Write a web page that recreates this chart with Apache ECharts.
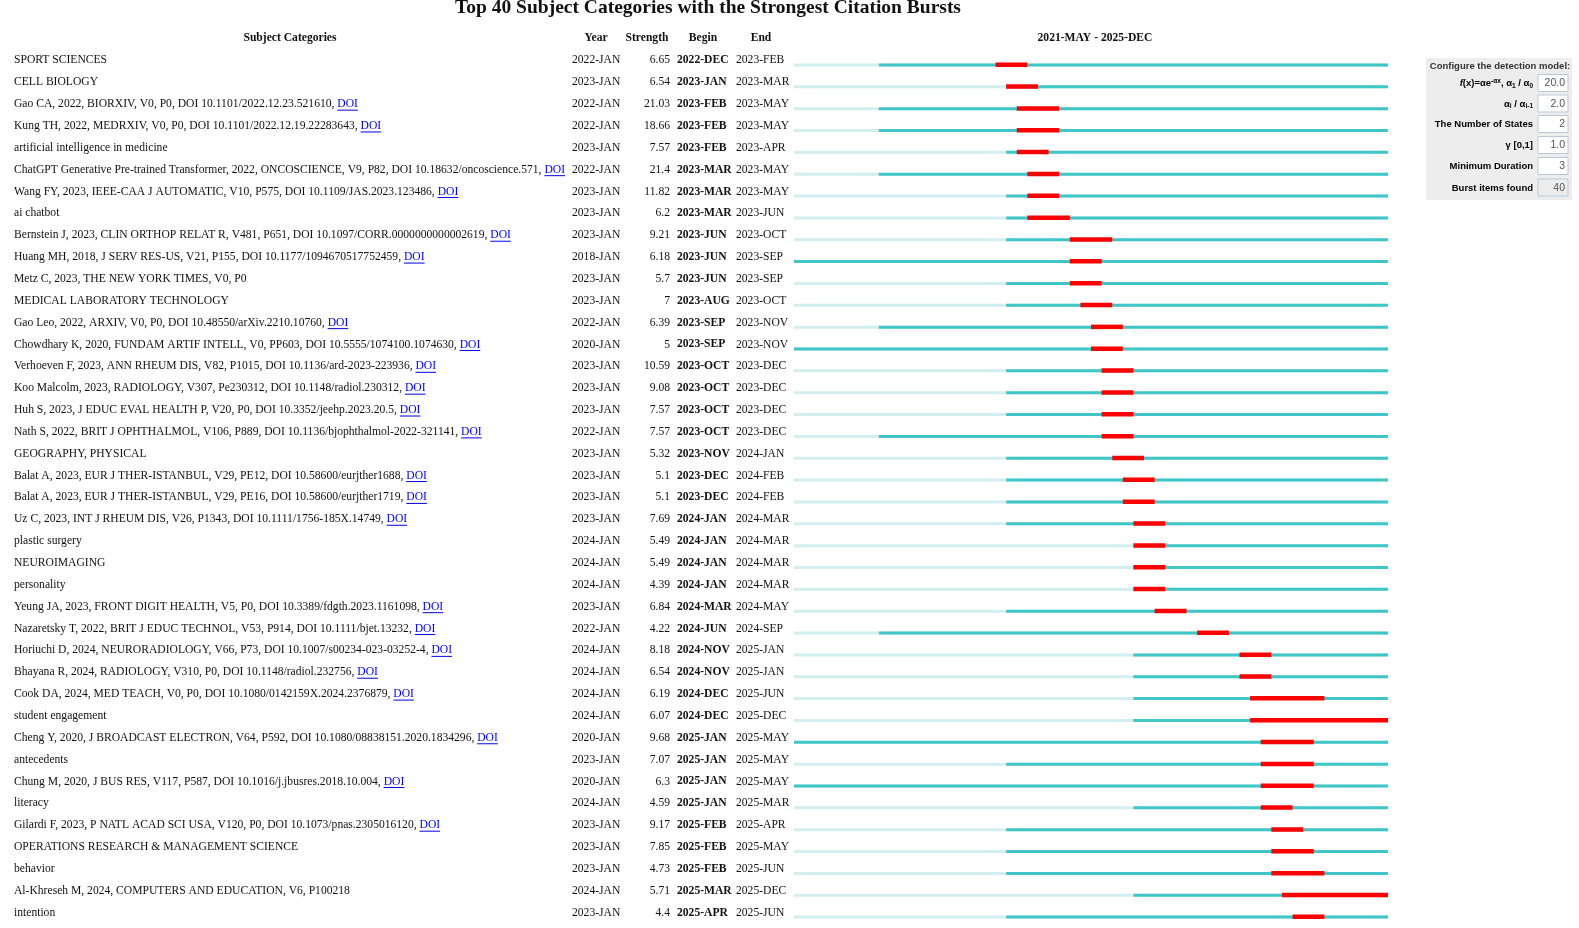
<!DOCTYPE html>
<html><head><meta charset="utf-8">
<script src="https://cdn.jsdelivr.net/npm/echarts@6/dist/echarts.min.js"></script>
<style>html,body{margin:0;padding:0;background:#fff}#c{width:1579px;height:928px}</style>
</head><body><div id="c"></div>
<script>
// ---------- data ----------
const titleText = 'Top 40 Subject Categories with the Strongest Citation Bursts';
const rangeStart = '2021-MAY';
const rangeEnd = '2025-DEC';
const names = [
  'SPORT SCIENCES',
  'CELL BIOLOGY',
  'Gao CA, 2022, BIORXIV, V0, P0, DOI 10.1101/2022.12.23.521610',
  'Kung TH, 2022, MEDRXIV, V0, P0, DOI 10.1101/2022.12.19.22283643',
  'artificial intelligence in medicine',
  'ChatGPT Generative Pre-trained Transformer, 2022, ONCOSCIENCE, V9, P82, DOI 10.18632/oncoscience.571',
  'Wang FY, 2023, IEEE-CAA J AUTOMATIC, V10, P575, DOI 10.1109/JAS.2023.123486',
  'ai chatbot',
  'Bernstein J, 2023, CLIN ORTHOP RELAT R, V481, P651, DOI 10.1097/CORR.0000000000002619',
  'Huang MH, 2018, J SERV RES-US, V21, P155, DOI 10.1177/1094670517752459',
  'Metz C, 2023, THE NEW YORK TIMES, V0, P0',
  'MEDICAL LABORATORY TECHNOLOGY',
  'Gao Leo, 2022, ARXIV, V0, P0, DOI 10.48550/arXiv.2210.10760',
  'Chowdhary K, 2020, FUNDAM ARTIF INTELL, V0, PP603, DOI 10.5555/1074100.1074630',
  'Verhoeven F, 2023, ANN RHEUM DIS, V82, P1015, DOI 10.1136/ard-2023-223936',
  'Koo Malcolm, 2023, RADIOLOGY, V307, Pe230312, DOI 10.1148/radiol.230312',
  'Huh S, 2023, J EDUC EVAL HEALTH P, V20, P0, DOI 10.3352/jeehp.2023.20.5',
  'Nath S, 2022, BRIT J OPHTHALMOL, V106, P889, DOI 10.1136/bjophthalmol-2022-321141',
  'GEOGRAPHY, PHYSICAL',
  'Balat A, 2023, EUR J THER-ISTANBUL, V29, PE12, DOI 10.58600/eurjther1688',
  'Balat A, 2023, EUR J THER-ISTANBUL, V29, PE16, DOI 10.58600/eurjther1719',
  'Uz C, 2023, INT J RHEUM DIS, V26, P1343, DOI 10.1111/1756-185X.14749',
  'plastic surgery',
  'NEUROIMAGING',
  'personality',
  'Yeung JA, 2023, FRONT DIGIT HEALTH, V5, P0, DOI 10.3389/fdgth.2023.1161098',
  'Nazaretsky T, 2022, BRIT J EDUC TECHNOL, V53, P914, DOI 10.1111/bjet.13232',
  'Horiuchi D, 2024, NEURORADIOLOGY, V66, P73, DOI 10.1007/s00234-023-03252-4',
  'Bhayana R, 2024, RADIOLOGY, V310, P0, DOI 10.1148/radiol.232756',
  'Cook DA, 2024, MED TEACH, V0, P0, DOI 10.1080/0142159X.2024.2376879',
  'student engagement',
  'Cheng Y, 2020, J BROADCAST ELECTRON, V64, P592, DOI 10.1080/08838151.2020.1834296',
  'antecedents',
  'Chung M, 2020, J BUS RES, V117, P587, DOI 10.1016/j.jbusres.2018.10.004',
  'literacy',
  'Gilardi F, 2023, P NATL ACAD SCI USA, V120, P0, DOI 10.1073/pnas.2305016120',
  'OPERATIONS RESEARCH & MANAGEMENT SCIENCE',
  'behavior',
  'Al-Khreseh M, 2024, COMPUTERS AND EDUCATION, V6, P100218',
  'intention'
];
const hasDoi = [0,0,1,1,0,1,1,0,1,1,0,0,1,1,1,1,1,1,0,1,1,1,0,0,0,1,1,1,1,1,0,1,0,1,0,1,0,0,0,0];
const years = ['2022-JAN','2023-JAN','2022-JAN','2022-JAN','2023-JAN','2022-JAN','2023-JAN','2023-JAN','2023-JAN','2018-JAN',
  '2023-JAN','2023-JAN','2022-JAN','2020-JAN','2023-JAN','2023-JAN','2023-JAN','2022-JAN','2023-JAN','2023-JAN',
  '2023-JAN','2023-JAN','2024-JAN','2024-JAN','2024-JAN','2023-JAN','2022-JAN','2024-JAN','2024-JAN','2024-JAN',
  '2024-JAN','2020-JAN','2023-JAN','2020-JAN','2024-JAN','2023-JAN','2023-JAN','2023-JAN','2024-JAN','2023-JAN'];
const strengths = ['6.65','6.54','21.03','18.66','7.57','21.4','11.82','6.2','9.21','6.18',
  '5.7','7','6.39','5','10.59','9.08','7.57','7.57','5.32','5.1',
  '5.1','7.69','5.49','5.49','4.39','6.84','4.22','8.18','6.54','6.19',
  '6.07','9.68','7.07','6.3','4.59','9.17','7.85','4.73','5.71','4.4'];
const begins = ['2022-DEC','2023-JAN','2023-FEB','2023-FEB','2023-FEB','2023-MAR','2023-MAR','2023-MAR','2023-JUN','2023-JUN',
  '2023-JUN','2023-AUG','2023-SEP','2023-SEP','2023-OCT','2023-OCT','2023-OCT','2023-OCT','2023-NOV','2023-DEC',
  '2023-DEC','2024-JAN','2024-JAN','2024-JAN','2024-JAN','2024-MAR','2024-JUN','2024-NOV','2024-NOV','2024-DEC',
  '2024-DEC','2025-JAN','2025-JAN','2025-JAN','2025-JAN','2025-FEB','2025-FEB','2025-FEB','2025-MAR','2025-APR'];
const ends = ['2023-FEB','2023-MAR','2023-MAY','2023-MAY','2023-APR','2023-MAY','2023-MAY','2023-JUN','2023-OCT','2023-SEP',
  '2023-SEP','2023-OCT','2023-NOV','2023-NOV','2023-DEC','2023-DEC','2023-DEC','2023-DEC','2024-JAN','2024-FEB',
  '2024-FEB','2024-MAR','2024-MAR','2024-MAR','2024-MAR','2024-MAY','2024-SEP','2025-JAN','2025-JAN','2025-JUN',
  '2025-DEC','2025-MAY','2025-MAY','2025-MAY','2025-MAR','2025-APR','2025-MAY','2025-JUN','2025-DEC','2025-JUN'];
// first month of each red bar as it is drawn in the picture (the "JUN" bursts are drawn from the following month)
const barFrom = ['2022-DEC','2023-JAN','2023-FEB','2023-FEB','2023-FEB','2023-MAR','2023-MAR','2023-MAR','2023-JUL','2023-JUL',
  '2023-JUL','2023-AUG','2023-SEP','2023-SEP','2023-OCT','2023-OCT','2023-OCT','2023-OCT','2023-NOV','2023-DEC',
  '2023-DEC','2024-JAN','2024-JAN','2024-JAN','2024-JAN','2024-MAR','2024-JUL','2024-NOV','2024-NOV','2024-DEC',
  '2024-DEC','2025-JAN','2025-JAN','2025-JAN','2025-JAN','2025-FEB','2025-FEB','2025-FEB','2025-MAR','2025-APR'];
const panelLabels = ['f(x)', 'ai', 'The Number of States', 'γ [0,1]', 'Minimum Duration', 'Burst items found'];
const panelValues = ['20.0', '2.0', '2', '1.0', '3', '40'];

// ---------- helpers ----------
const MONTHS = ['JAN','FEB','MAR','APR','MAY','JUN','JUL','AUG','SEP','OCT','NOV','DEC'];
function mIdx(s) {
  const p = s.split('-');
  const s0 = rangeStart.split('-');
  return (+p[0] - +s0[0]) * 12 + MONTHS.indexOf(p[1]) - MONTHS.indexOf(s0[1]);
}
const TOTAL = mIdx(rangeEnd) + 1;

const SERIF = '"Liberation Serif", "Times New Roman", serif';
const SANS = '"Liberation Sans", Arial, sans-serif';
const FS = 11.6;
const measureCtx = document.createElement('canvas').getContext('2d');
function textW(t, font) { measureCtx.font = font; return measureCtx.measureText(t).width; }

const COL = { name: 14, year: 572, strengthR: 670, begin: 677, end: 736 };
const C_LIGHT = '#d3eef0', C_TEAL = '#40c6c6', C_RED = '#ff0000';

function renderItem(params, api) {
  const i = api.value(1);
  const p0 = api.coord([0, i]);
  const yc = p0[1];
  const xs = p0[0];
  const xe = api.coord([TOTAL, i])[0];
  const xy = api.coord([Math.max(0, mIdx(years[i])), i])[0];
  const xb = api.coord([mIdx(barFrom[i]), i])[0];
  const xf = api.coord([mIdx(ends[i]) + 1, i])[0];
  const ty = yc - 4.5;
  const font = FS + 'px ' + SERIF;
  const children = [
    { type: 'line', shape: { x1: xs, y1: yc, x2: xe, y2: yc }, style: { stroke: C_LIGHT, lineWidth: 3 } },
    { type: 'line', shape: { x1: xy, y1: yc, x2: xe, y2: yc }, style: { stroke: C_TEAL, lineWidth: 3 } },
    { type: 'rect', shape: { x: xb, y: yc - 2.5, width: xf - xb, height: 4.5 }, style: { fill: C_RED } }
  ];
  const base = { fontSize: FS, fontFamily: SERIF, fill: '#111', verticalAlign: 'middle' };
  let nm = names[i] + (hasDoi[i] ? ', ' : '');
  children.push({ type: 'text', style: Object.assign({}, base, { x: COL.name, y: ty, text: nm, align: 'left' }) });
  if (hasDoi[i]) {
    const dx = COL.name + textW(nm, font);
    const dw = textW('DOI', font);
    children.push({ type: 'text', style: Object.assign({}, base, { x: dx, y: ty, text: 'DOI', fill: '#0000ee', align: 'left' }) });
    children.push({ type: 'line', shape: { x1: dx, y1: ty + 6, x2: dx + dw, y2: ty + 6 }, style: { stroke: '#0000ee', lineWidth: 1 } });
  }
  children.push({ type: 'text', style: Object.assign({}, base, { x: COL.year, y: ty, text: years[i], align: 'left' }) });
  children.push({ type: 'text', style: Object.assign({}, base, { x: COL.strengthR, y: ty, text: strengths[i], align: 'right' }) });
  children.push({ type: 'text', style: Object.assign({}, base, { x: COL.begin, y: ty, text: begins[i], align: 'left', fontWeight: 'bold' }) });
  children.push({ type: 'text', style: Object.assign({}, base, { x: COL.end, y: ty, text: ends[i], align: 'left' }) });
  return { type: 'group', children };
}

// ---------- config panel graphics ----------
const panel = [];
const PX = 1426, PY = 58, PW = 146, PH = 142;
panel.push({ type: 'rect', shape: { x: PX, y: PY, width: PW, height: PH }, style: { fill: '#ededed' }, silent: true });
panel.push({ type: 'text', style: { x: PX + PW / 2 + 1, y: 66, text: 'Configure the detection model:', font: 'bold 9.5px ' + SANS, fill: '#333', align: 'center', verticalAlign: 'middle' } });
const rowY = [83, 103.5, 124, 145, 166, 187.5];
const richLbl = {
  n: { fontSize: 9.5, fontWeight: 'bold', fontFamily: SANS, color: '#333' },
  i: { fontSize: 9.5, fontWeight: 'bold', fontStyle: 'italic', fontFamily: SANS, color: '#333' },
  sup: { fontSize: 6.5, fontWeight: 'bold', fontFamily: SANS, color: '#333', verticalAlign: 'top', padding: [0, 0, 5, 0] },
  sub: { fontSize: 6.5, fontWeight: 'bold', fontFamily: SANS, color: '#333', verticalAlign: 'bottom', padding: [5, 0, 0, 0] }
};
const lblText = [
  '{i|f}{n|(x)=αe}{sup|-αx}{n|, α}{sub|1}{n| / α}{sub|0}',
  '{n|α}{sub|i}{n| / α}{sub|i-1}',
  '{n|' + panelLabels[2] + '}',
  '{n|' + panelLabels[3] + '}',
  '{n|' + panelLabels[4] + '}',
  '{n|' + panelLabels[5] + '}'
];
for (let k = 0; k < 6; k++) {
  panel.push({ type: 'rect', shape: { x: 1538, y: rowY[k] - 8.5, width: 30, height: 17 },
    style: { fill: k === 5 ? '#ededed' : '#ffffff', stroke: '#b9c9d9', lineWidth: 1 }, silent: true });
  panel.push({ type: 'text', style: { x: 1565, y: rowY[k] + 0.5, text: panelValues[k], font: '10.5px ' + SANS, fill: '#555', align: 'right', verticalAlign: 'middle' } });
  panel.push({ type: 'text', style: { x: 1533, y: rowY[k] + 0.5, text: lblText[k], rich: richLbl, align: 'right', verticalAlign: 'middle' } });
}

const headY = 38;
const headFont = 'bold 11.6px ' + SERIF;
const headers = [
  { type: 'text', style: { x: 708, y: 8, text: titleText, font: 'bold 19.5px ' + SERIF, fill: '#111', align: 'center', verticalAlign: 'middle' } },
  { type: 'text', style: { x: 290, y: headY, text: 'Subject Categories', font: headFont, fill: '#111', align: 'center', verticalAlign: 'middle' } },
  { type: 'text', style: { x: 596, y: headY, text: 'Year', font: headFont, fill: '#111', align: 'center', verticalAlign: 'middle' } },
  { type: 'text', style: { x: 647, y: headY, text: 'Strength', font: headFont, fill: '#111', align: 'center', verticalAlign: 'middle' } },
  { type: 'text', style: { x: 703, y: headY, text: 'Begin', font: headFont, fill: '#111', align: 'center', verticalAlign: 'middle' } },
  { type: 'text', style: { x: 761, y: headY, text: 'End', font: headFont, fill: '#111', align: 'center', verticalAlign: 'middle' } },
  { type: 'text', style: { x: 1095, y: headY, text: rangeStart + ' - ' + rangeEnd, font: headFont, fill: '#111', align: 'center', verticalAlign: 'middle' } }
];

const chart = echarts.init(document.getElementById('c'), null, { renderer: 'canvas' });
chart.setOption({
  animation: false,
  backgroundColor: '#ffffff',
  grid: { left: 794, width: 594, top: 54, height: 882 },
  xAxis: { type: 'value', min: 0, max: TOTAL, show: false },
  yAxis: { type: 'category', data: names.map((_, i) => String(i)), inverse: true, show: false },
  graphic: { elements: headers.concat(panel) },
  series: [{
    type: 'custom',
    clip: false,
    silent: true,
    renderItem: renderItem,
    encode: { x: 0, y: 1 },
    data: names.map((_, i) => [0, i])
  }]
});
</script>
</body></html>
